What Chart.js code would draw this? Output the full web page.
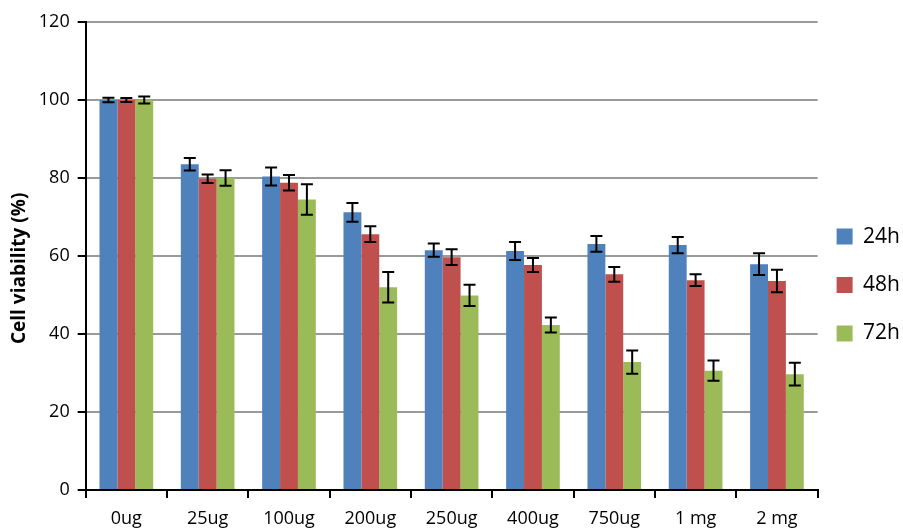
<!DOCTYPE html>
<html>
<head>
<meta charset="utf-8">
<script src="https://cdn.jsdelivr.net/npm/chart.js@4"></script>
<style>
  html, body { margin: 0; padding: 0; background: #fff; }
  #wrap { width: 903px; height: 530px; }
</style>
</head>
<body>
<div id="wrap"><canvas id="myChart" width="903" height="530"></canvas></div>
<script>
// doses on the x axis
const doses = ['0ug', '25ug', '100ug', '200ug', '250ug', '400ug', '750ug', '1 mg', '2 mg'];

// mean viability per time point
const viability24 = [100, 83.5, 80.4, 71.2, 61.5, 61.3, 63.1, 62.8, 57.9];
const viability48 = [100, 79.8, 78.8, 65.6, 59.7, 57.7, 55.3, 53.8, 53.6];
const viability72 = [100, 80, 74.5, 52, 49.9, 42.3, 32.8, 30.6, 29.7];

// error (+/-) per time point
const err24 = [0.6, 1.6, 2.3, 2.4, 1.7, 2.3, 2.0, 2.1, 2.8];
const err48 = [0.5, 1.1, 2.0, 2.0, 2.0, 1.8, 1.9, 1.5, 2.9];
const err72 = [0.9, 2.0, 3.9, 3.9, 2.7, 1.9, 3.0, 2.6, 2.9];

const yTicks = [0, 20, 40, 60, 80, 100, 120];

const font = 'Open Sans';

// draws the error bars on top of the bars
const errorBars = {
  id: 'errorBars',
  afterDatasetsDraw(chart) {
    const ctx = chart.ctx;
    const yScale = chart.scales.y;
    ctx.save();
    ctx.strokeStyle = '#000';
    ctx.lineWidth = 2;
    chart.data.datasets.forEach((ds, i) => {
      const meta = chart.getDatasetMeta(i);
      meta.data.forEach((bar, j) => {
        const v = ds.data[j];
        const e = ds.errors[j];
        const top = yScale.getPixelForValue(v + e);
        const bot = yScale.getPixelForValue(v - e);
        const x = bar.x;
        ctx.beginPath();
        ctx.moveTo(x, top); ctx.lineTo(x, bot);
        ctx.moveTo(x - 6, top); ctx.lineTo(x + 6, top);
        ctx.moveTo(x - 6, bot); ctx.lineTo(x + 6, bot);
        ctx.stroke();
      });
    });
    ctx.restore();
  }
};

const myChart = document.getElementById('myChart');

let barChart = new Chart(myChart, {
  type: 'bar',
  data: {
    labels: doses,
    datasets: [
      { label: '24h', data: viability24, errors: err24, backgroundColor: '#4F81BD' },
      { label: '48h', data: viability48, errors: err48, backgroundColor: '#C0504D' },
      { label: '72h', data: viability72, errors: err72, backgroundColor: '#9BBB59' }
    ]
  },
  options: {
    responsive: false,
    animation: false,
    categoryPercentage: 0.66,
    barPercentage: 1,
    layout: { padding: { top: 22, right: -7, bottom: -10, left: 4 } },
    plugins: {
      tooltip: { enabled: false },
      legend: {
        position: 'right',
        title: { display: true, text: ' ', padding: 1, font: { size: 12 } },
        labels: {
          font: { family: font, size: 21, lineHeight: 1.4 },
          color: '#000',
          boxWidth: 16,
          boxHeight: 16,
          padding: 19,
          // text as a one-line array so the row height follows lineHeight
          generateLabels: chart => Chart.defaults.plugins.legend.labels.generateLabels(chart)
            .map(item => ({ ...item, text: [item.text] }))
        }
      }
    },
    scales: {
      x: {
        grid: { drawOnChartArea: false, drawTicks: true, tickLength: 8, tickColor: '#000', lineWidth: 2, offset: true },
        border: { color: '#000', width: 2 },
        ticks: { font: { family: font, size: 18, lineHeight: 1 }, color: '#000', padding: 12 }
      },
      y: {
        min: 0,
        max: 120,
        afterBuildTicks: axis => { axis.ticks = yTicks.map(v => ({ value: v })); },
        grid: { color: '#9a9a9a', lineWidth: 2, tickLength: 8, tickColor: '#000' },
        border: { color: '#000', width: 2 },
        ticks: { font: { family: font, size: 18 }, color: '#000', padding: 8 },
        title: {
          display: true,
          text: 'Cell viability (%)     ',
          font: { family: font, size: 19, weight: 'bold' },
          color: '#000',
          padding: { top: 4, bottom: 0 }
        }
      }
    }
  },
  plugins: [errorBars]
});
</script>
</body>
</html>
